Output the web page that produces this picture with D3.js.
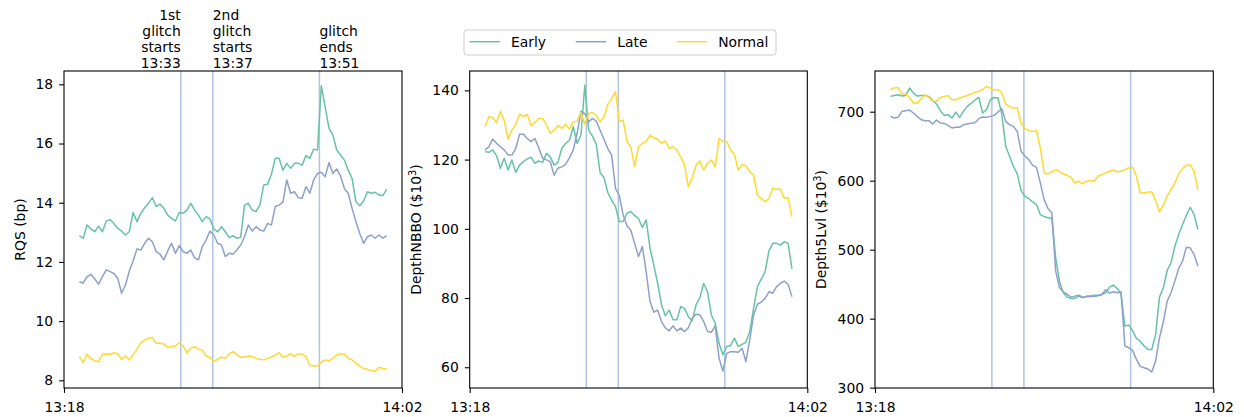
<!DOCTYPE html>
<html>
<head>
<meta charset="utf-8">
<script src="https://cdn.jsdelivr.net/npm/d3@7"></script>
<style>
  body { margin: 0; background: #fff; }
  svg { display: block; }
  text { font-family: "DejaVu Sans", sans-serif; fill: #000; }
</style>
</head>
<body>
<svg id="chart" width="1244" height="417"></svg>
<script>
// ---- sampling clock: one observation every 30 s, 13:20 to 14:00 ----
const day = (h, m, s = 0) => new Date(2000, 0, 1, h, m, s);
const sampleTimes = d3.timeSecond.every(30).range(day(13, 20), day(14, 0, 1));

const xDomain = [day(13, 18), day(14, 2)];
const xTickValues = [day(13, 18), day(14, 2)];

const seriesNames = ["Early", "Late", "Normal"];
const seriesColors = ["#66c2a5", "#8da0cb", "#ffd92f"];

// glitch markers
const glitchTimes = [day(13, 33, 12), day(13, 37, 22), day(13, 51, 15)];
const glitchLabels = [
  ["1st", "glitch", "starts", "13:33"],
  ["2nd", "glitch", "starts", "13:37"],
  ["glitch", "ends", "13:51"]
];

// ---- RQS (bp) ----
const rqsEarly = [12.88,12.80,13.25,13.11,13.02,13.21,13.02,13.38,13.43,13.30,13.13,13.04,12.91,13.02,13.67,13.36,13.64,13.83,13.98,14.17,13.87,13.95,13.81,13.58,13.47,13.38,13.67,13.64,13.75,13.98,13.75,13.58,13.36,13.53,13.45,13.11,13.02,13.19,13.02,12.82,12.89,12.80,12.83,13.92,13.98,13.75,13.70,13.92,14.60,14.62,14.96,15.50,15.50,15.10,15.33,15.16,15.33,15.33,15.27,15.59,15.50,15.81,15.78,17.95,17.24,16.51,16.29,15.78,15.61,15.44,15.10,14.82,14.03,13.90,14.06,14.37,14.32,14.35,14.26,14.24,14.45];
const rqsLate = [11.33,11.28,11.50,11.58,11.42,11.25,11.50,11.73,11.67,11.61,11.44,10.94,11.22,11.69,12.03,12.44,12.40,12.63,12.80,12.68,12.35,12.26,12.07,12.37,12.63,12.29,12.55,12.35,12.29,12.40,12.14,12.07,12.52,12.74,13.04,12.91,12.63,12.57,12.18,12.29,12.26,12.40,12.57,12.85,13.25,13.04,13.19,13.08,13.04,13.30,13.25,13.87,13.92,14.03,14.77,14.32,14.37,14.17,14.15,14.54,14.32,14.77,14.99,15.03,14.88,15.36,14.99,15.14,14.90,14.48,14.32,13.81,13.36,12.96,12.63,12.85,12.91,12.80,12.91,12.80,12.89];
const rqsNormal = [8.80,8.60,8.88,8.73,8.66,8.63,8.88,8.89,8.88,8.93,8.89,8.71,8.82,8.69,8.86,9.05,9.27,9.36,9.42,9.45,9.25,9.25,9.23,9.11,9.14,9.16,9.27,9.16,8.93,9.08,9.14,9.05,9.02,8.82,8.78,8.64,8.71,8.78,8.74,8.89,8.97,8.86,8.78,8.78,8.82,8.80,8.74,8.71,8.69,8.74,8.78,8.86,8.93,8.78,8.82,8.89,8.80,8.89,8.89,8.80,8.51,8.48,8.48,8.62,8.69,8.66,8.74,8.86,8.89,8.89,8.74,8.69,8.58,8.48,8.40,8.37,8.33,8.30,8.44,8.40,8.38];

// ---- DepthNBBO ($10^3) ----
const nbboEarly = [122.3,122.1,122.8,121.1,117.5,120.4,117.0,119.9,116.3,118.4,119.4,120.2,120.7,118.9,119.6,119.2,121.8,120.8,118.4,119.2,123.2,124.7,125.6,129.5,124.7,127.1,141.5,128.5,126.8,124.4,116.2,114.8,110.5,108.3,106.4,102.1,102.1,104.5,105.0,103.8,103.0,100.4,102.6,94.4,89.5,84.2,78.0,74.9,76.5,73.7,73.7,77.5,77.0,74.6,73.4,78.0,80.1,84.2,81.8,75.1,72.7,66.9,63.6,66.0,66.3,68.4,66.0,66.6,67.2,70.3,77.0,83.3,85.5,87.6,93.6,95.8,95.8,95.3,96.3,95.8,88.4];
const nbboLate = [122.8,123.7,125.9,124.7,123.7,122.8,121.3,121.3,123.2,127.3,127.3,126.1,125.2,126.1,123.4,120.4,119.9,119.4,115.5,117.5,117.9,118.6,120.5,122.8,127.6,134.0,133.3,130.9,131.9,131.1,128.5,125.9,123.2,121.3,111.7,109.6,104.0,100.9,99.6,95.8,92.0,94.9,87.6,79.0,75.9,76.5,73.2,71.4,70.5,72.0,70.5,71.3,70.3,71.4,74.1,75.3,75.1,73.2,70.3,70.1,72.0,62.6,58.9,64.0,64.5,64.5,64.3,65.5,61.6,67.9,75.1,78.2,78.8,79.9,81.8,81.4,83.3,84.2,84.9,83.9,80.4];
const nbboNormal = [129.5,132.4,132.1,130.7,134.0,131.4,125.9,128.5,130.2,133.1,132.4,133.1,129.8,130.7,131.9,131.9,130.0,127.6,128.5,129.8,129.0,130.2,128.8,130.9,131.1,133.6,130.2,133.3,133.6,132.7,130.9,132.4,135.9,137.7,139.6,130.9,131.4,125.2,123.7,117.9,123.7,124.7,125.2,127.1,126.3,125.9,124.7,125.4,123.2,123.7,122.8,120.8,118.4,112.2,114.6,118.4,119.6,117.0,118.9,119.9,117.9,126.1,125.2,125.2,122.8,121.5,117.0,118.6,118.2,116.5,115.5,109.8,108.8,107.8,108.8,111.7,111.4,111.5,108.8,109.0,103.5];

// ---- Depth5Lvl ($10^3) ----
const lvlEarly = [722.2,723.6,724.6,722.7,723.6,734.3,727.0,722.7,723.6,723.6,722.2,715.9,711.1,701.4,694.7,695.7,690.8,699.5,691.8,700.5,707.7,712.1,716.9,720.7,698.1,702.9,717.4,720.7,719.8,695.7,649.8,635.3,620.9,609.8,585.6,577.4,574.1,569.2,565.4,550.9,548.0,546.1,546.1,488.2,453.4,437.5,431.2,429.3,429.3,432.7,430.2,432.7,432.7,434.1,434.1,435.1,437.5,445.7,448.6,443.8,435.1,389.2,390.7,382.9,371.4,367.5,360.3,355.4,355.4,377.2,431.2,444.7,469.8,480.9,505.0,521.9,536.4,549.9,561.5,550.9,529.2];
const lvlLate = [693.2,690.8,691.8,700.5,701.4,702.4,698.1,692.8,688.4,687.0,687.0,682.1,687.9,683.6,683.1,680.2,676.4,677.3,677.3,681.2,682.1,683.1,684.1,689.9,692.3,691.8,693.2,694.7,699.5,704.3,686.0,681.2,678.8,671.5,642.6,635.8,630.5,622.3,619.4,596.7,572.6,559.6,553.3,468.9,444.7,438.9,435.1,431.2,432.7,434.1,431.2,431.7,432.2,432.2,433.1,435.1,441.8,437.0,438.9,437.5,438.9,360.3,357.9,354.0,341.0,330.8,328.9,327.0,322.6,338.6,372.3,395.5,425.4,437.5,454.4,472.7,483.3,503.6,502.6,493.0,476.1];
const lvlNormal = [731.8,734.3,735.2,725.6,726.5,719.8,712.5,712.5,718.8,724.6,720.7,715.0,715.0,720.7,722.2,723.6,717.4,717.4,719.8,721.7,723.6,725.6,728.5,729.4,732.3,736.7,734.3,731.4,732.3,727.0,711.1,707.7,705.3,705.3,683.6,675.4,672.5,671.5,672.5,647.4,611.2,609.8,612.7,616.0,613.6,609.8,607.8,604.9,596.7,599.1,595.3,599.1,600.1,599.1,606.4,608.8,611.2,613.6,615.6,612.7,613.6,616.0,618.4,619.4,606.4,582.3,582.3,583.7,583.7,571.2,554.8,564.4,577.4,587.1,596.7,609.8,617.5,622.3,623.3,613.6,587.1];

const rqsTicks = [8, 10, 12, 14, 16, 18];
const nbboTicks = [60, 80, 100, 120, 140];
const lvlTicks = [300, 400, 500, 600, 700];

// ---- layout ----
const FONT = 13.9;
const plotTop = 71, plotBottom = 388;
const panels = [
  { x0: 64,    x1: 402,    yDomain: [7.74, 18.45], ticks: rqsTicks,  title: "RQS (bp)",  sup: false, labelX: 25,
    series: [rqsEarly, rqsLate, rqsNormal] },
  { x0: 469.7, x1: 807.3,  yDomain: [54.0, 145.6], ticks: nbboTicks, title: "DepthNBBO", sup: true,  labelX: 421,
    series: [nbboEarly, nbboLate, nbboNormal] },
  { x0: 875,   x1: 1213.3, yDomain: [299.5, 759],  ticks: lvlTicks,  title: "Depth5Lvl", sup: true,  labelX: 826,
    series: [lvlEarly, lvlLate, lvlNormal] }
];

const svg = d3.select("#chart");
const fmt = d3.timeFormat("%H:%M");

panels.forEach((p, pi) => {
  const x = d3.scaleTime().domain(xDomain).range([p.x0, p.x1]);
  const y = d3.scaleLinear().domain(p.yDomain).range([plotBottom, plotTop]);
  const g = svg.append("g");

  // glitch markers
  g.selectAll("line.glitch").data(glitchTimes).join("line")
    .attr("class", "glitch")
    .attr("x1", d => x(d)).attr("x2", d => x(d))
    .attr("y1", plotTop).attr("y2", plotBottom)
    .attr("stroke", "#b0c4de").attr("stroke-width", 1.5);

  // series
  const line = d3.line().x((d, i) => x(sampleTimes[i])).y(d => y(d));
  p.series.forEach((vals, si) => {
    g.append("path").datum(vals)
      .attr("d", line)
      .attr("fill", "none")
      .attr("stroke", seriesColors[si])
      .attr("stroke-width", 1.5)
      .attr("stroke-linejoin", "round");
  });

  // frame
  g.append("rect")
    .attr("x", p.x0).attr("y", plotTop)
    .attr("width", p.x1 - p.x0).attr("height", plotBottom - plotTop)
    .attr("fill", "none").attr("stroke", "#000").attr("stroke-width", 1.1);

  // y axis
  const ya = g.append("g").attr("transform", `translate(${p.x0},0)`)
    .call(d3.axisLeft(y).tickValues(p.ticks).tickSize(4.9).tickPadding(6));
  ya.select(".domain").remove();
  ya.selectAll("line").attr("stroke-width", 1.1);
  ya.selectAll("text").attr("font-size", FONT).attr("font-family", "DejaVu Sans");

  // x axis
  const xa = g.append("g").attr("transform", `translate(0,${plotBottom})`)
    .call(d3.axisBottom(x).tickValues(xTickValues).tickFormat(fmt).tickSize(4.9));
  xa.select(".domain").remove();
  xa.selectAll("line").attr("stroke-width", 1.1);
  xa.selectAll("text").attr("font-size", FONT).attr("font-family", "DejaVu Sans")
    .attr("y", 23.5).attr("dy", null);

  // y label
  const cy = (plotTop + plotBottom) / 2;
  const lab = g.append("text")
    .attr("transform", `translate(${p.labelX},${cy}) rotate(-90)`)
    .attr("text-anchor", "middle").attr("font-size", FONT);
  if (p.sup) {
    lab.append("tspan").text(p.title + " ($10");
    lab.append("tspan").attr("font-size", FONT * 0.7).attr("dy", -5.5).text("3");
    lab.append("tspan").attr("dy", 5.5).text(")");
  } else {
    lab.text(p.title);
  }

  // glitch annotations above the first panel
  if (pi === 0) {
    glitchTimes.forEach((t, k) => {
      const lines = glitchLabels[k];
      const tx = g.append("text")
        .attr("text-anchor", k === 0 ? "end" : "start")
        .attr("font-size", FONT);
      lines.forEach((s, j) => {
        tx.append("tspan")
          .attr("x", x(t))
          .attr("y", 68 - (lines.length - 1 - j) * 16)
          .text(s);
      });
    });
  }
});

// ---- legend ----
const leg = svg.append("g");
leg.append("rect")
  .attr("x", 464).attr("y", 30).attr("width", 312).attr("height", 25)
  .attr("rx", 2.8).attr("ry", 2.8)
  .attr("fill", "#fff").attr("fill-opacity", 0.8)
  .attr("stroke", "#cccccc").attr("stroke-width", 1);
const legX = [469.5, 575.7, 676.7];
seriesNames.forEach((name, i) => {
  leg.append("line")
    .attr("x1", legX[i]).attr("x2", legX[i] + 30.5)
    .attr("y1", 41.7).attr("y2", 41.7)
    .attr("stroke", seriesColors[i]).attr("stroke-width", 1.5);
  leg.append("text")
    .attr("x", legX[i] + 41.5).attr("y", 46.8)
    .attr("font-size", FONT)
    .text(name);
});
</script>
</body>
</html>
